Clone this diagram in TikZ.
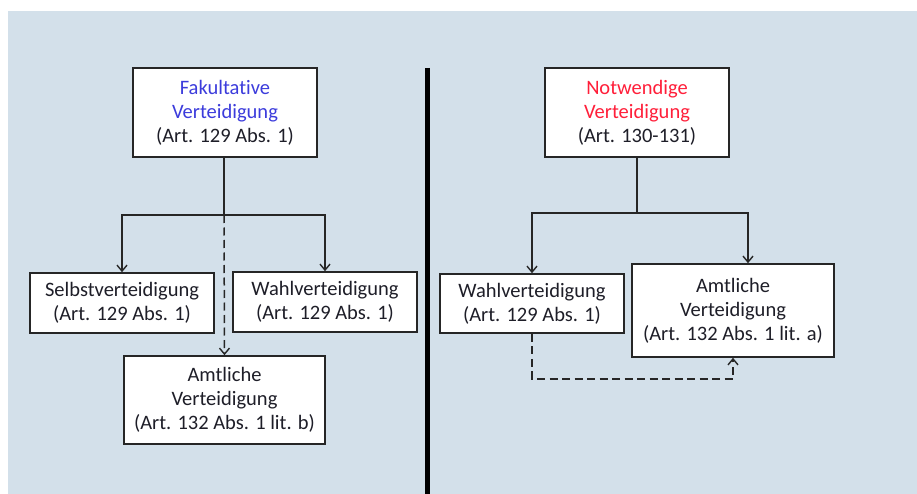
\documentclass[tikz,border=0pt]{standalone}
\usepackage{fontspec}
\setmainfont[Ligatures=NoCommon]{Carlito}
\usetikzlibrary{arrows.meta}
\definecolor{bgc}{HTML}{D3E0EA}
\definecolor{linec}{HTML}{262626}
\definecolor{txtc}{HTML}{1E1E28}
\definecolor{bluec}{HTML}{3C3CDC}
\definecolor{redc}{HTML}{FF1F3A}
\tikzset{
  box/.style={draw=linec, line width=1.6pt, fill=white, align=center, text=txtc,
    font=\fontsize{20.5}{24}\selectfont, inner sep=0pt, anchor=center},
  conn/.style={draw=linec, line width=1.5pt, -{Straight Barb[length=6pt,width=10pt,line width=1.4pt]}},
  plain/.style={draw=linec, line width=1.5pt},
  dashconn/.style={conn, dash pattern=on 8pt off 4.5pt},
}
\begin{document}
\begin{tikzpicture}[x=1pt,y=-1pt]
\useasboundingbox (0,0) rectangle (917,494);
\fill[white] (0,0) rectangle (917,494);
\fill[bgc] (8,11) rectangle (917,494);
\draw[black, line width=4.5pt] (427.5,68) -- (427.5,494);

\node[box, minimum width=184pt, minimum height=89pt] (fak) at (225,112.5)
  {\textcolor{bluec}{Fakultative}\\\textcolor{bluec}{Verteidigung}\\(Art. 129 Abs. 1)};
\node[box, minimum width=184pt, minimum height=89pt] (notw) at (637,112.5)
  {\textcolor{redc}{Notwendige}\\\textcolor{redc}{Verteidigung}\\(Art. 130-131)};
\node[box, minimum width=184pt, minimum height=60pt] (selbst) at (122,303)
  {Selbstverteidigung\\(Art. 129 Abs. 1)};
\node[box, minimum width=184pt, minimum height=60pt] (wahlL) at (325,302)
  {Wahlverteidigung\\(Art. 129 Abs. 1)};
\node[box, minimum width=201pt, minimum height=88pt] (amtL) at (224.5,400)
  {Amtliche\\Verteidigung\\(Art. 132 Abs. 1 lit. b)};
\node[box, minimum width=184pt, minimum height=59pt] (wahlR) at (532,303.5)
  {Wahlverteidigung\\(Art. 129 Abs. 1)};
\node[box, minimum width=202pt, minimum height=93pt] (amtR) at (733,310.5)
  {Amtliche\\Verteidigung\\(Art. 132 Abs. 1 lit. a)};

\coordinate (lj) at (224,215);
\coordinate (rj) at (637,213);
\draw[plain] (fak.south -| lj) -- (lj);
\draw[conn] (lj) -| (selbst.north);
\draw[conn] (lj) -| (wahlL.north);
\draw[dashconn] (lj) -- (amtL.north);

\draw[plain] (notw.south) -- (rj);
\draw[conn] (rj) -| (wahlR.north);
\draw[conn] (rj) -| ([xshift=15pt]amtR.north);
\draw[dashconn] (wahlR.south) -- ++(0,45) -| (amtR.south);
\end{tikzpicture}
\end{document}
